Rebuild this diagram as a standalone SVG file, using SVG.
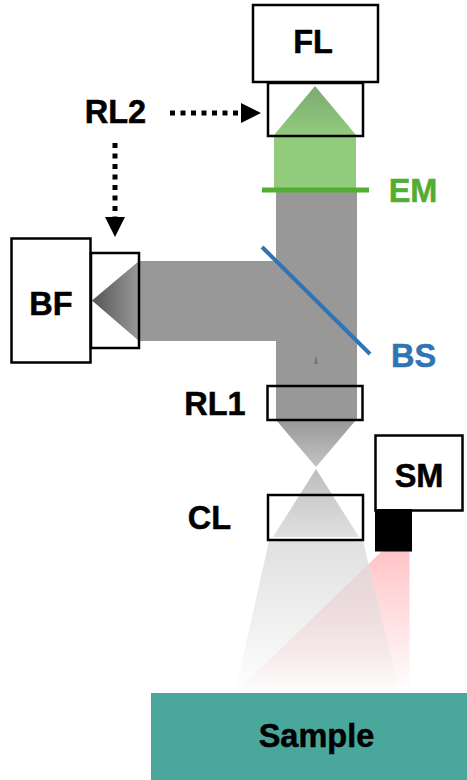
<svg xmlns="http://www.w3.org/2000/svg" width="467" height="780" viewBox="0 0 467 780">
<defs>
<style>
.box{fill:#fff;stroke:#000;stroke-width:2.5}
.lens{fill:none;stroke:#000;stroke-width:2.5}
.t{font-family:"Liberation Sans",Arial,sans-serif;font-weight:700;font-size:32.5px;fill:#000;text-anchor:middle;stroke:#000;stroke-width:.5}
.dot{fill:none;stroke:#000;stroke-width:5;stroke-dasharray:5 5.5}
</style>
<linearGradient id="gG" x1="0" y1="0" x2="0" y2="1"><stop offset="0" stop-color="#7da873"/><stop offset="1" stop-color="#92cb7c"/></linearGradient>
<linearGradient id="gL" x1="0" y1="0" x2="1" y2="0"><stop offset="0" stop-color="#555"/><stop offset="1" stop-color="#989898"/></linearGradient>
<linearGradient id="gD" x1="0" y1="0" x2="0" y2="1"><stop offset="0" stop-color="#989898"/><stop offset="1" stop-color="#c4c4c4"/></linearGradient>
<linearGradient id="gU" x1="0" y1="0" x2="0" y2="1"><stop offset="0" stop-color="#bdbdbd"/><stop offset="1" stop-color="#e0e0e0"/></linearGradient>
<linearGradient id="gF" gradientUnits="userSpaceOnUse" x1="0" y1="541" x2="0" y2="693"><stop offset="0" stop-color="#dcdcdc" stop-opacity="0.9"/><stop offset="1" stop-color="#dcdcdc" stop-opacity="0.02"/></linearGradient>
<linearGradient id="gR" gradientUnits="userSpaceOnUse" x1="0" y1="551" x2="0" y2="693"><stop offset="0" stop-color="#ff9a9f" stop-opacity="0.58"/><stop offset="1" stop-color="#ff9a9f" stop-opacity="0"/></linearGradient>
<marker id="ah" markerUnits="userSpaceOnUse" markerWidth="20" markerHeight="20" refX="0" refY="10" orient="auto"><path d="M0 0L20 10L0 20Z" fill="#000"/></marker>
</defs>
<g id="beams">
<rect x="139" y="261" width="138" height="80" fill="#989898"/>
<rect x="276" y="190" width="81" height="230" fill="#989898"/>
<path d="M316 355L318 364H314Z" fill="#777"/>
<path d="M276 420H356L316 467Z" fill="url(#gD)"/>
<path d="M316 469L359 537H273Z" fill="url(#gU)"/>
<path d="M382 551H409.500V693H235Z" fill="url(#gR)"/>
<path d="M269 541H363L400 693H235Z" fill="url(#gF)"/>
<path d="M92 300.500L139 261V341Z" fill="url(#gL)"/>
<path d="M274 135V190H356V135Z" fill="#92cb7c"/>
<path d="M315 86L356 135H274Z" fill="url(#gG)"/>
</g>
<g id="FL"><rect class="box" x="253" y="5" width="125" height="77"/><text class="t" x="313" y="53">FL</text></g>
<g id="RL2-top"><rect class="lens" x="268" y="83" width="95" height="53"/></g>
<g id="EM"><rect x="262" y="187.500" width="107" height="5" fill="#52ae32"/><text class="t" x="413" y="202" style="fill:#52ae32;stroke:#52ae32">EM</text></g>
<g id="BS"><line x1="262" y1="247" x2="370" y2="354" stroke="#2f75b5" stroke-width="4"/><text class="t" x="413.500" y="367" style="fill:#2f75b5;stroke:#2f75b5">BS</text></g>
<g id="BF"><rect class="box" x="11.500" y="238.500" width="79" height="124"/><text class="t" x="51" y="315">BF</text></g>
<g id="RL2-left"><rect class="lens" x="91" y="253" width="48" height="95"/></g>
<g id="RL2-label"><text class="t" x="115.500" y="123">RL2</text></g>
<g id="RL1"><rect class="lens" x="267.500" y="386" width="95" height="34"/><text class="t" x="215" y="415">RL1</text></g>
<g id="CL"><rect class="lens" x="268" y="495" width="95" height="45"/><text class="t" x="209.500" y="529">CL</text></g>
<g id="SM"><rect class="box" x="375.500" y="435.500" width="87" height="75"/><rect x="375" y="509" width="37" height="42.500" fill="#000"/><text class="t" x="419" y="487">SM</text></g>
<g id="Sample"><rect x="151" y="693" width="316" height="87" fill="#4aa79c"/><text class="t" x="316.500" y="747">Sample</text></g>
<g id="connectors">
<line class="dot" x1="170" y1="113" x2="241" y2="113" marker-end="url(#ah)"/>
<line class="dot" x1="115" y1="143" x2="115" y2="217" marker-end="url(#ah)"/>
</g>
</svg>
